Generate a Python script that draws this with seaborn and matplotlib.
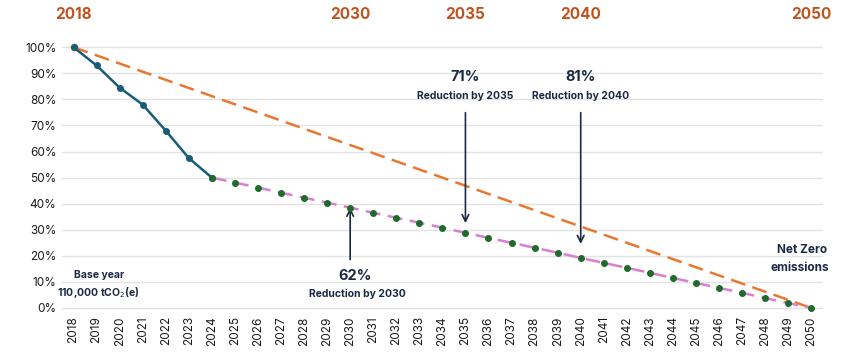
import seaborn as sns
import matplotlib.pyplot as plt
import pandas as pd

# actual emissions (% of 2018 base year)
actual_years = [2018, 2019, 2020, 2021, 2022, 2023, 2024]
actual_pct = [100, 93, 84.5, 78, 68, 57.5, 50]

# projected pathway 2024 -> 2050
proj_years = list(range(2024, 2051))
proj_pct = [50, 48.1, 46.2, 44.2, 42.3, 40.4, 38.5, 36.5, 34.6, 32.7, 30.8,
            28.8, 26.9, 25.0, 23.1, 21.2, 19.2, 17.3, 15.4, 13.5, 11.5, 9.6,
            7.7, 5.8, 3.8, 1.9, 0]

# straight-line target
target_years = [2018, 2050]
target_pct = [100, 0]

milestones = [2018, 2030, 2035, 2040, 2050]

sns.set_theme(style="white")
plt.rcParams['font.family'] = ['Inter', 'DejaVu Sans']

navy = "#1b2a44"
rust = "#c0531d"

fig = plt.figure(figsize=(8.67, 3.61), dpi=100)
ax = fig.add_axes([0.0715, 0.1396, 0.8775, 0.744])

actual = pd.DataFrame({"year": actual_years, "pct": actual_pct})
proj = pd.DataFrame({"year": proj_years, "pct": proj_pct})
target = pd.DataFrame({"year": target_years, "pct": target_pct})

sns.lineplot(data=target, x="year", y="pct", ax=ax, color="#e8782f",
             linewidth=1.8, linestyle=(0, (6, 3)), zorder=2)
ax.plot(target_years[:1], target_pct[:1], "o", color="#e8782f", ms=4.5, zorder=3)
sns.lineplot(data=proj, x="year", y="pct", ax=ax, color="#d97fd2",
             linewidth=1.8, linestyle=(0, (6, 3)), zorder=3)
sns.lineplot(data=actual, x="year", y="pct", ax=ax, color="#175c78",
             linewidth=1.8, marker="o", markersize=5, markeredgewidth=0, zorder=5)
ax.plot(proj_years, proj_pct, "o", color="#1e6b2c", ms=4, zorder=6, clip_on=False)

ax.set_xlim(2017.5, 2050.5)
ax.set_ylim(-1, 102)
ax.set_yticks(range(0, 101, 10))
ax.set_yticklabels([f"{v}%" for v in range(0, 101, 10)], fontsize=8.5, color="#1a1a1a")
ax.set_xticks(list(range(2018, 2051)))
ax.set_xticklabels([str(y) for y in range(2018, 2051)], rotation=90, fontsize=8.5,
                   color="#1a1a1a")
ax.tick_params(axis="both", length=0, pad=4)
ax.grid(axis="y", color="#e3e3e3", linewidth=1)
ax.set_axisbelow(True)
for s in ax.spines.values():
    s.set_visible(False)
ax.set_xlabel("")
ax.set_ylabel("")

# milestone years above the plot
for y in milestones:
    ax.text(y, 112.5, str(y), ha="center", va="center", fontsize=11,
            fontweight="bold", color=rust, clip_on=False)

# annotations
ax.text(2035, 88.5, "71%", ha="center", va="center", fontsize=10.5,
        fontweight="bold", color=navy)
ax.text(2035, 81.2, "Reduction by 2035", ha="center", va="center", fontsize=7.5,
        fontweight="bold", color=navy)
ax.annotate("", xy=(2035, 31.5), xytext=(2035, 76),
            arrowprops=dict(arrowstyle="->", color=navy, lw=1.2))

ax.text(2040, 88.5, "81%", ha="center", va="center", fontsize=10.5,
        fontweight="bold", color=navy)
ax.text(2040, 81.2, "Reduction by 2040", ha="center", va="center", fontsize=7.5,
        fontweight="bold", color=navy)
ax.annotate("", xy=(2040, 23.5), xytext=(2040, 76),
            arrowprops=dict(arrowstyle="->", color=navy, lw=1.2))

ax.text(2030.2, 12.3, "62%", ha="center", va="center", fontsize=10.5,
        fontweight="bold", color=navy)
ax.text(2030.3, 5.4, "Reduction by 2030", ha="center", va="center", fontsize=7.5,
        fontweight="bold", color=navy)
ax.annotate("", xy=(2030, 39.5), xytext=(2030, 17.5),
            arrowprops=dict(arrowstyle="->", color=navy, lw=1.2))

ax.text(2019.1, 12.6, "Base year", ha="center", va="center", fontsize=7.5,
        fontweight="bold", color=navy)
ax.text(2019.1, 6.1, "110,000 tCO$_2$(e)", ha="center", va="center", fontsize=7.5,
        fontweight="bold", color=navy)

ax.text(2049.6, 22.2, "Net Zero", ha="center", va="center", fontsize=8.5,
        fontweight="bold", color=navy)
ax.text(2049.5, 15.3, "emissions", ha="center", va="center", fontsize=8.5,
        fontweight="bold", color=navy)

fig.savefig("out.png", dpi=100)
